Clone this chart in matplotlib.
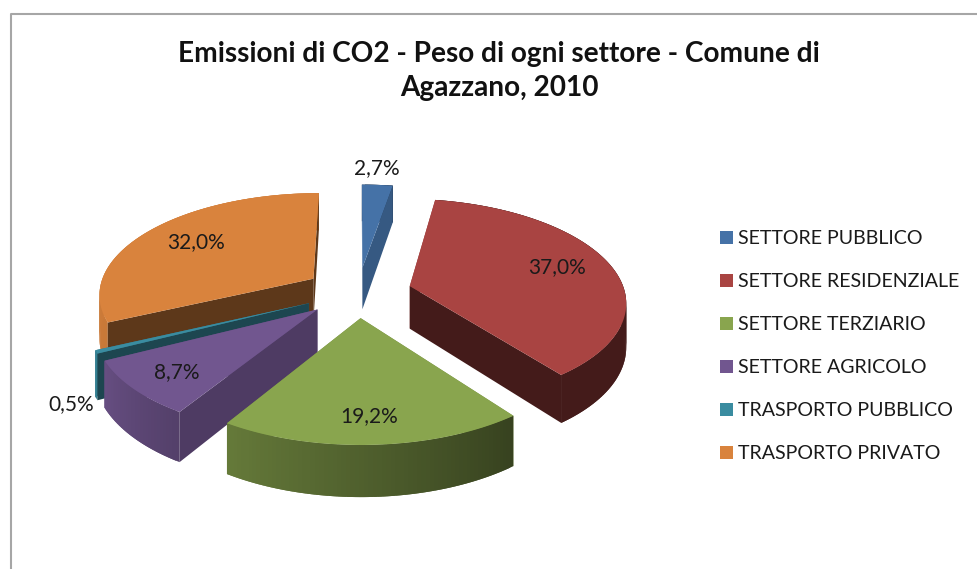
import matplotlib.pyplot as plt
import numpy as np

plt.rcParams["font.family"] = ["Lato", "DejaVu Sans"]

# %% Dati
SETTORI = ["SETTORE PUBBLICO", "SETTORE RESIDENZIALE", "SETTORE TERZIARIO",
           "SETTORE AGRICOLO", "TRASPORTO PUBBLICO", "TRASPORTO PRIVATO"]
VALORI = [2.7, 37.0, 19.2, 8.7, 0.5, 32.0]
ETICHETTE = ["2,7%", "37,0%", "19,2%", "8,7%", "0,5%", "32,0%"]
COLORI = ["#4572A7", "#A94442", "#89A54E", "#71568F", "#3A8CA0", "#D9833D"]
TITOLO = "Emissioni di CO2 - Peso di ogni settore - Comune di\nAgazzano, 2010"

# %% Layout (pixel)
CX, CY = 358, 292
RX, RY = 215, 101
PERSP = 0.14
ESPLOSO = 0.25
ALTEZZA = 43
POS_ETICHETTE = [(377, 168), (557, 267), (369, 416), (177, 372), (71, 404), (196, 242)]
OMBRA_RADIALE = [0.78, 0.40, 0.40, 0.69, 0.50, 0.43]
ORDINE = [5, 0, 1, 4, 3, 2]  # da dietro a davanti


def proietta(x, y):
    p = 1 / (1 + PERSP * y)
    return CX + RX * x * p, CY - RY * y * p, ALTEZZA * p


def scurisci(colore, f):
    rgb = np.array(plt.matplotlib.colors.to_rgb(colore))
    return tuple(rgb * f)


def ombra_bordo(t):
    return np.interp(t % 360, [0, 143, 212, 245, 280, 360], [0.4, 0.4, 0.74, 0.92, 0.95, 0.95])


fig = plt.figure(figsize=(9.77, 5.69), dpi=100)
ax = fig.add_axes([0, 0, 1, 1])
ax.set_xlim(0, 977)
ax.set_ylim(569, 0)
ax.axis("off")

# cornice tagliata a destra e in basso
ax.plot([10.5, 10.5, 977], [569, 13.5, 13.5], color="#A6A6A6", lw=1.5)

limiti = np.cumsum([0] + VALORI) / sum(VALORI) * 360
for i in ORDINE:
    t0, t1 = limiti[i], limiti[i + 1]
    mid = np.radians((t0 + t1) / 2)
    ox, oy = ESPLOSO * np.sin(mid), ESPLOSO * np.cos(mid)
    gradi = np.linspace(t0, t1, max(int(t1 - t0) + 2, 3))
    xs, ys, hs = proietta(ox + np.sin(np.radians(gradi)), oy + np.cos(np.radians(gradi)))
    tx, ty, th = proietta(ox, oy)

    # parete radiale: visibile solo se la normale guarda verso chi osserva
    inizio = (xs[0], ys[0], hs[0], np.cos(np.radians(t0 - 90)) < 0)
    fine = (xs[-1], ys[-1], hs[-1], np.cos(np.radians(t1 + 90)) < 0)

    def parete(q):
        f = OMBRA_RADIALE[i] if q[3] else 0.85
        ax.fill([tx, q[0], q[0], tx], [ty, q[1], q[1] + q[2], ty + th],
                color=scurisci(COLORI[i], f), lw=0)

    for q in (inizio, fine):
        if not q[3]:
            parete(q)
    for j in range(len(gradi) - 1):
        c = scurisci(COLORI[i], ombra_bordo((gradi[j] + gradi[j + 1]) / 2))
        k = min(j + 2, len(gradi) - 1)
        ax.fill([xs[j], xs[k], xs[k], xs[j]],
                [ys[j], ys[k], ys[k] + hs[k], ys[j] + hs[j]],
                color=c, lw=0)
    for q in (inizio, fine):
        if q[3]:
            parete(q)
    ax.fill(np.r_[tx, xs], np.r_[ty, ys], color=COLORI[i], lw=0)

for testo, (x, y) in zip(ETICHETTE, POS_ETICHETTE):
    ax.text(x, y, testo, ha="center", va="center", fontsize=15, color="#1a1a1a")

ax.text(499, 71, TITOLO, ha="center", va="center", fontsize=20.2, fontweight="bold",
        color="#111111", linespacing=1.42)

# legenda
for n, (nome, col) in enumerate(zip(SETTORI, COLORI)):
    y = 238 + n * 43
    ax.add_patch(plt.Rectangle((719.5, y - 7.5), 13, 13, color=col, lw=0))
    ax.text(737.5, y, nome, ha="left", va="center", fontsize=14.1, color="#1a1a1a")

fig.savefig("out.png", dpi=100)
